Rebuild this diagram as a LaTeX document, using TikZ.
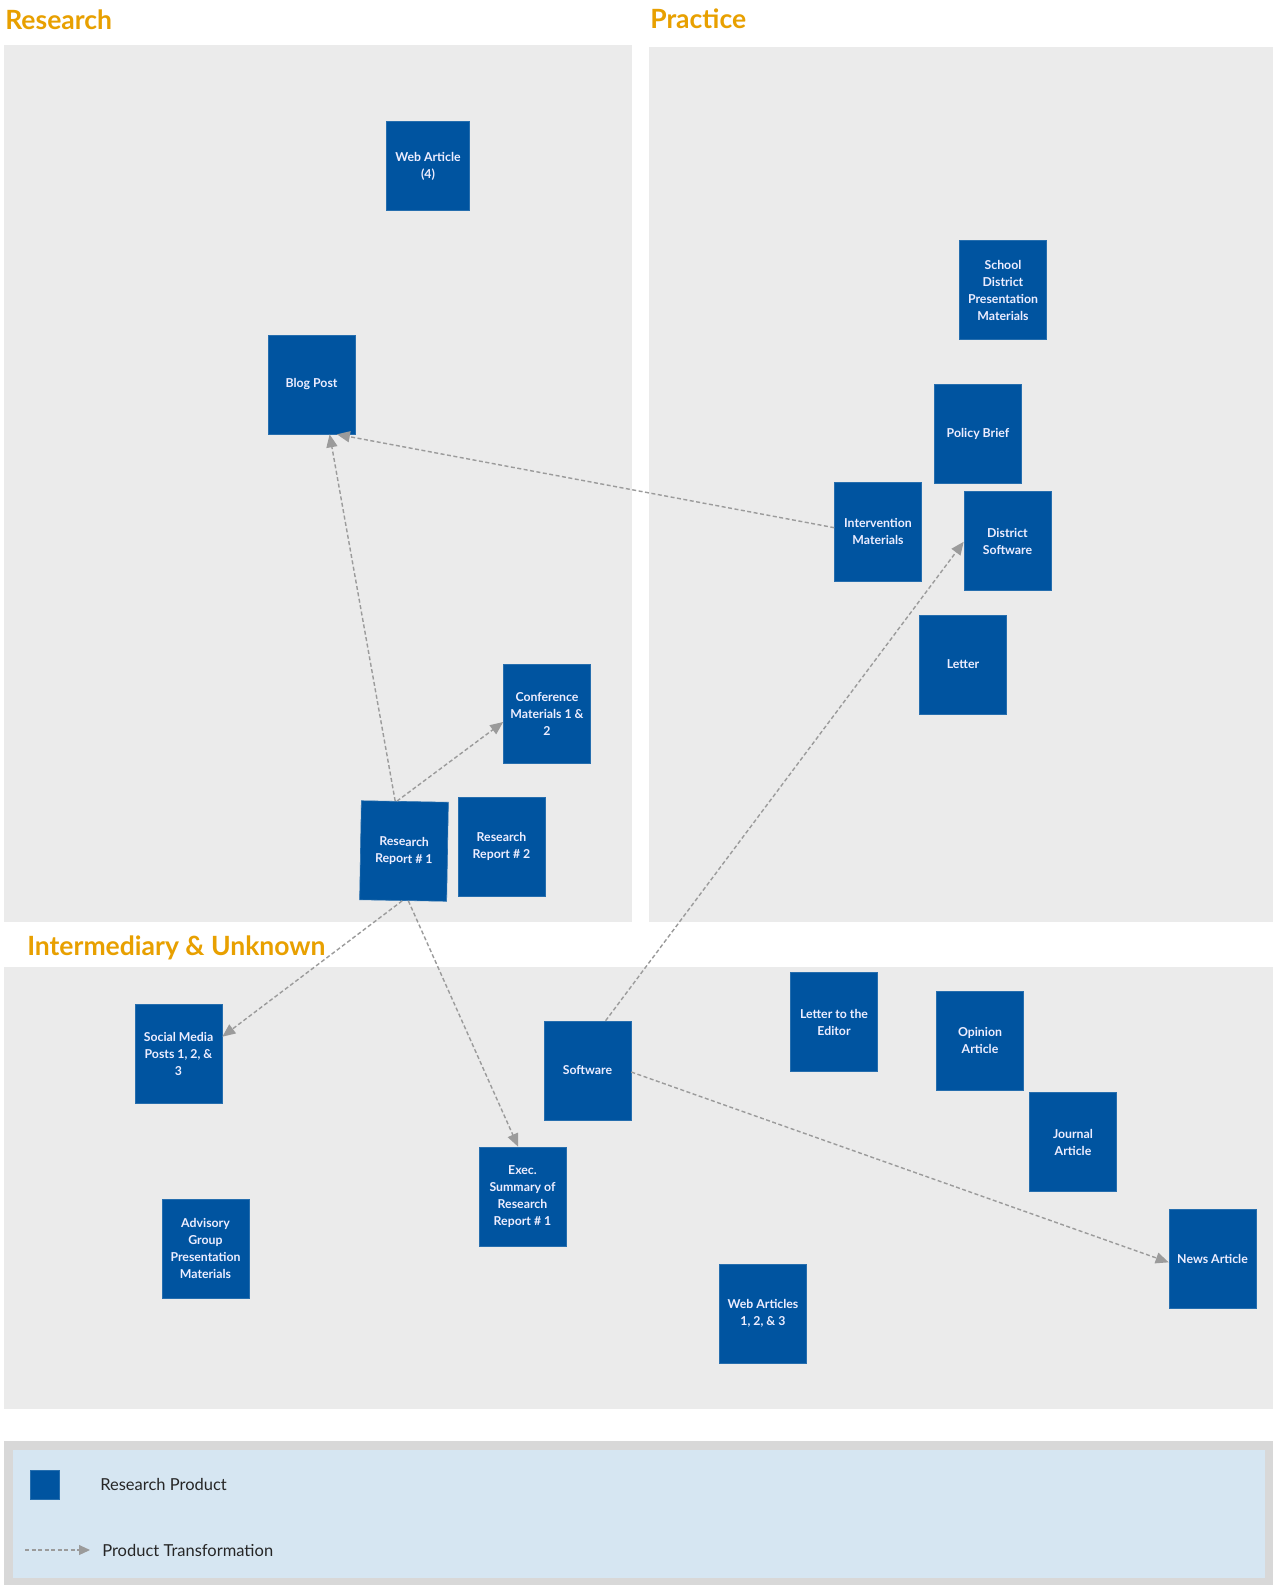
\documentclass[tikz,border=0pt]{standalone}
\usepackage{fontspec}
\setmainfont{Lato}
\usepackage{tikz}
\usetikzlibrary{positioning,arrows.meta}

\definecolor{prodblue}{RGB}{0,84,160}
\definecolor{panelgray}{RGB}{235,235,235}
\definecolor{headorange}{RGB}{232,160,0}
\definecolor{arrowgray}{RGB}{155,155,155}
\definecolor{legendblue}{RGB}{214,230,242}
\definecolor{legendgray}{RGB}{216,216,216}

\begin{document}
\begin{tikzpicture}[x=1pt,y=-1pt,>={Triangle[length=13pt,width=11pt]},
                    semithick]
  \tikzstyle{product}=[draw=prodblue!85!white,fill=prodblue,text=white!93!blue,
                       minimum width=87pt,minimum height=99pt,inner sep=0pt,
                       align=center,font=\fontsize{12.3}{17}\selectfont\bfseries]
  \tikzstyle{transform}=[->,draw=arrowgray,line width=1.4pt,
                         dash pattern=on 4pt off 2.5pt]
  \tikzstyle{heading}=[anchor=west,inner sep=0pt,text=headorange,
                       font=\fontsize{26.5}{30}\selectfont\bfseries]
  \tikzstyle{legendtext}=[anchor=west,inner sep=0pt,text=black!85,
                          font=\fontsize{16.5}{20}\selectfont]

  % background and panels
  \fill[white] (0,0) rectangle (1273,1585);
  \fill[panelgray] (4,45) rectangle (632,922);
  \fill[panelgray] (649,47) rectangle (1273,922);
  \fill[panelgray] (4,967) rectangle (1273,1409);

  \node[heading] (hres)   at (5,20)   {Research};
  \node[heading] (hprac)  at (650,19) {Practice};
  \node[heading] (hinter) at (27,948) {Intermediary \& Unknown};

  % research
  \node[product,minimum width=83pt,minimum height=89pt] (web4) at (428,166) {Web Article\\(4)};
  \node[product] (blog) at (311.5,384.5) {Blog Post};
  \node[product] (conf) at (547,713.5)   {Conference\\Materials 1 \&\\2};
  \node[product,rotate=-1] (rr1) at (404,851) {Research\\Report \# 1};
  \node[product] (rr2)  at (501.5,846.5) {Research\\Report \# 2};

  % practice
  \node[product] (school) at (1003,290)    {School\\District\\Presentation\\Materials};
  \node[product] (policy) at (978,433.5)   {Policy Brief};
  \node[product] (interv) at (878,531.5)   {Intervention\\Materials};
  \node[product] (dsoft)  at (1007.5,541)  {District\\Software};
  \node[product] (letter) at (963,664.5)   {Letter};

  % intermediary & unknown
  \node[product] (social)   at (178.5,1053.5) {Social Media\\Posts 1, 2, \&\\3};
  \node[product] (software) at (587.5,1070.5) {Software};
  \node[product] (editor)   at (834,1022)     {Letter to the\\Editor};
  \node[product] (opinion)  at (980,1040.5)   {Opinion\\Article};
  \node[product] (journal)  at (1073,1142)    {Journal\\Article};
  \node[product] (exec)     at (522.5,1196.5) {Exec.\\Summary of\\Research\\Report \# 1};
  \node[product] (advisory) at (205.5,1248.5) {Advisory\\Group\\Presentation\\Materials};
  \node[product] (news)     at (1212.5,1258.5) {News Article};
  \node[product] (webs)     at (763,1313.5)   {Web Articles\\1, 2, \& 3};

  % transformations
  \draw[transform] (interv.175) -- (blog.297);
  \draw[transform] (rr1.101) -- (blog.290);
  \draw[transform] (rr1.99) -- (conf.191);
  \draw[transform] (rr1.269) -- (social.21);
  \draw[transform] (rr1.276) -- (exec.95);
  \draw[transform] (software.70) -- (dsoft.181);
  \draw[transform] (software.-2) -- (news.185);

  % legend
  \fill[legendgray] (4,1441) rectangle (1273,1585);
  \fill[legendblue] (13,1450) rectangle (1265,1578);
  \node[product,minimum width=29pt,minimum height=29pt] (keybox) at (44.5,1484.5) {};
  \node[legendtext] (keyprod) at (100,1484) {Research Product};
  \coordinate (keystart) at (25,1550);
  \node[legendtext] (keytrans) at (102,1550) {Product Transformation};
  \draw[transform,line width=1.1pt,>={Triangle[length=11pt,width=10pt]}]
    (keystart) -- ([xshift=-12pt]keytrans.west);
\end{tikzpicture}
\end{document}
